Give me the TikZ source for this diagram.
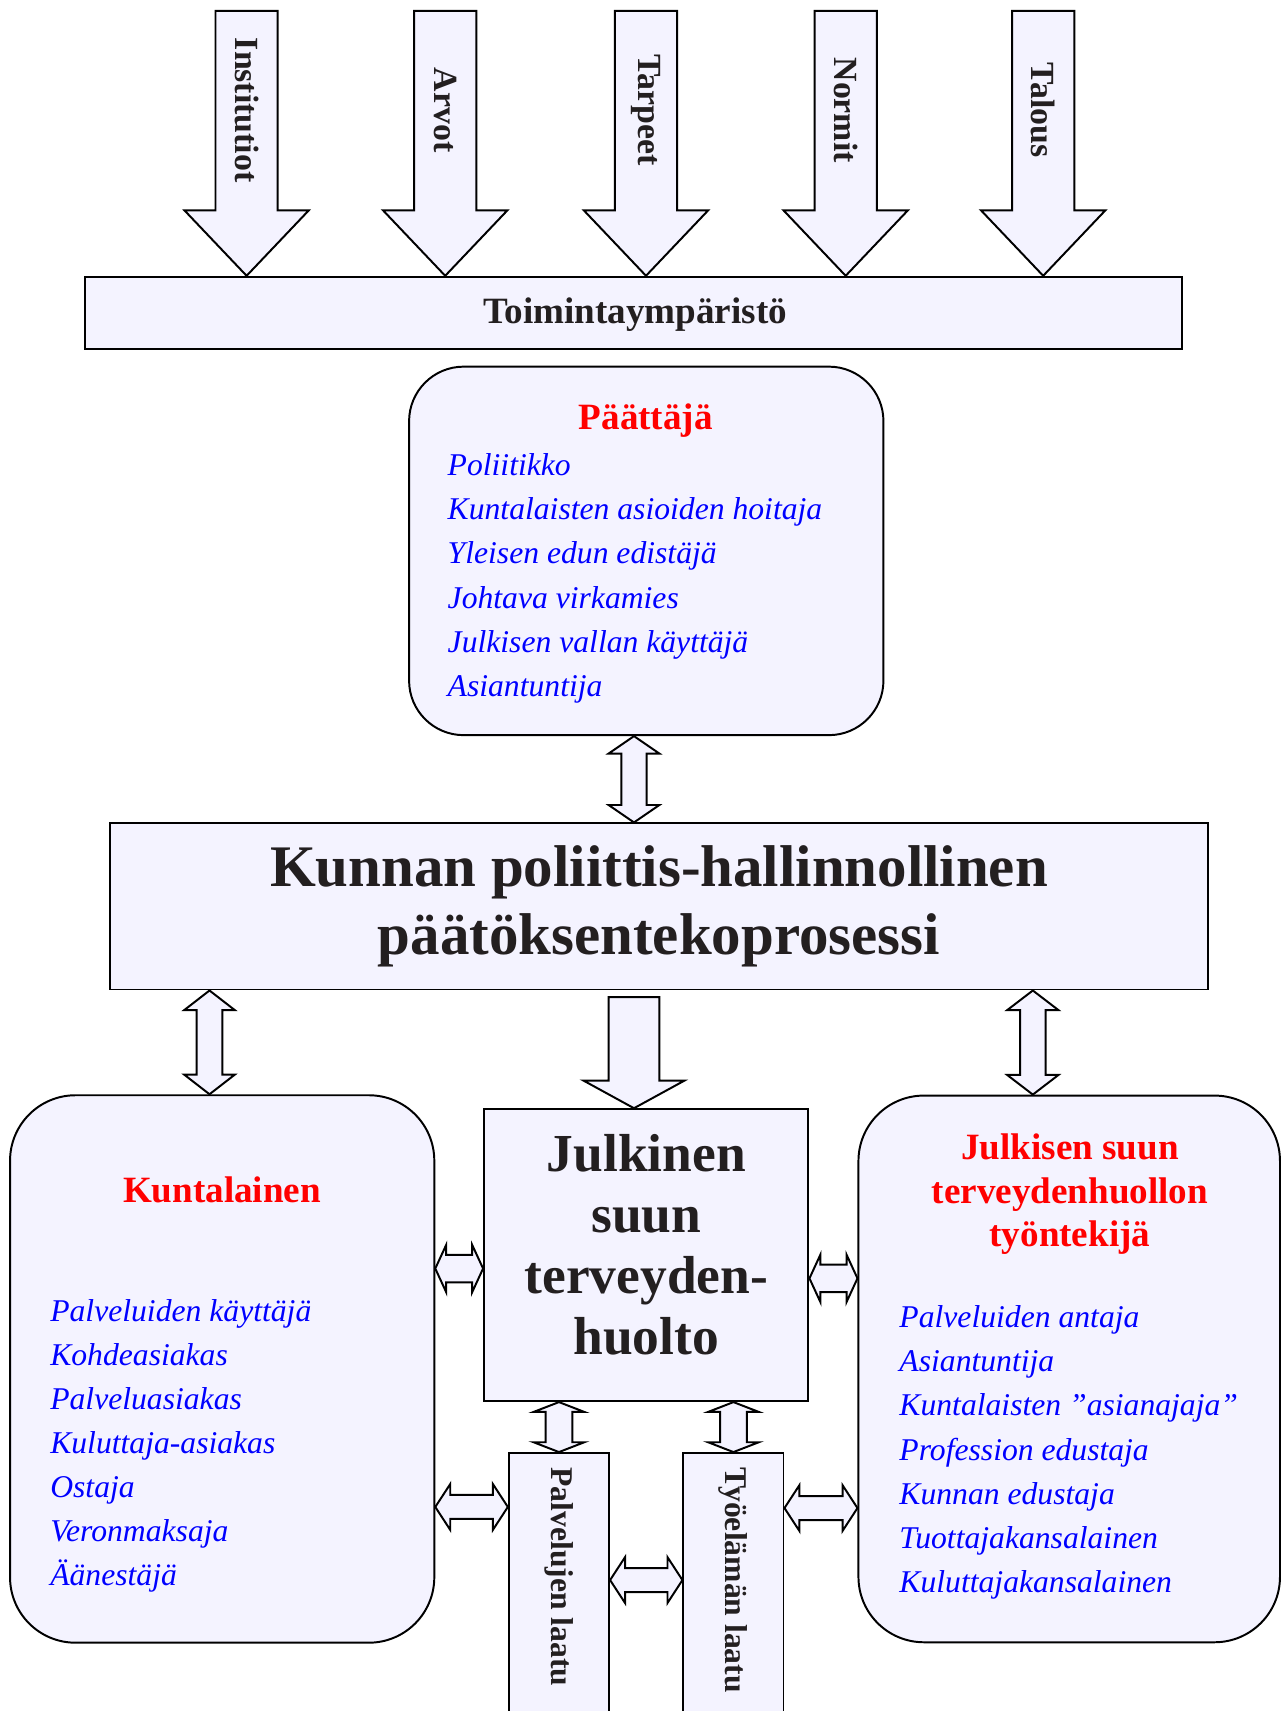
\documentclass[tikz,border=0pt]{standalone}
\usepackage{fontspec}
\setmainfont{Liberation Serif}
\usetikzlibrary{calc,positioning}
\definecolor{boxfill}{RGB}{244,243,255}
\definecolor{titlered}{RGB}{255,0,0}
\definecolor{itemblue}{RGB}{0,0,255}
\definecolor{inkdark}{RGB}{35,31,32}
\tikzset{
  every picture/.style={line width=0.9pt},
  plainbox/.style={draw, fill=boxfill, inner sep=0pt},
  roundbox/.style={plainbox, rounded corners=30pt},
  blockarrow/.style={draw, fill=boxfill, line join=miter},
  heading/.style={font=\bfseries\fontsize{17pt}{20pt}\selectfont, text=titlered, align=center, inner sep=0pt},
  item/.style={font=\itshape\fontsize{14.5pt}{17pt}\selectfont, text=itemblue, anchor=base west, inner sep=0pt},
  arrowlabel/.style={font=\bfseries\fontsize{15.5pt}{18pt}\selectfont, text=inkdark, rotate=-90, inner sep=0pt},
  boldtext/.style 2 args={font=\bfseries\fontsize{#1}{#2}\selectfont, text=inkdark, align=center}
}
% fat double arrow, vertical: top, bottom, half shaft, half head, head length
\newcommand{\dblvarrow}[5]{%
  \draw[blockarrow] let \p1=#1, \p2=#2 in
    (\x1,\y1) -- (\x1+#4,\y1-#5) -- (\x1+#3,\y1-#5) -- (\x1+#3,\y2+#5)
    -- (\x1+#4,\y2+#5) -- (\x1,\y2) -- (\x1-#4,\y2+#5) -- (\x1-#3,\y2+#5)
    -- (\x1-#3,\y1-#5) -- (\x1-#4,\y1-#5) -- cycle;}
% fat double arrow, horizontal: left, right, half shaft, half head, head length
\newcommand{\dblharrow}[5]{%
  \draw[blockarrow] let \p1=#1, \p2=#2 in
    (\x1,\y1) -- (\x1+#5,\y1+#4) -- (\x1+#5,\y1+#3) -- (\x2-#5,\y1+#3)
    -- (\x2-#5,\y1+#4) -- (\x2,\y1) -- (\x2-#5,\y1-#4) -- (\x2-#5,\y1-#3)
    -- (\x1+#5,\y1-#3) -- (\x1+#5,\y1-#4) -- cycle;}
% fat single arrow pointing down: start, tip, half shaft, half head, head length
\newcommand{\downblock}[5]{%
  \draw[blockarrow] let \p1=#1, \p2=#2 in
    (\x1-#3,\y1) -- (\x1+#3,\y1) -- (\x1+#3,\y2+#5) -- (\x1+#4,\y2+#5)
    -- (\x1,\y2) -- (\x1-#4,\y2+#5) -- (\x1-#3,\y2+#5) -- cycle;}

\begin{document}
\begin{tikzpicture}[x=0.5pt,y=-0.5pt]
  \useasboundingbox (0,0) rectangle (1176,1568);
  \clip (0,0) rectangle (1176,1568);

  % operating environment
  \node[plainbox, minimum width=502.7pt, minimum height=33.15pt] (toim) at (580.3,286.8) {};
  \node[boldtext={17pt}{20pt}, inner sep=0pt] (toimtext) at (582,288.5) {Toimintaympäristö};
  \foreach \pos/\t [count=\i] in {226/Institutiot, 408/Arvot, 592/Tarpeet, 775/Normit, 956/Talous} {
    \coordinate (src\i) at (\pos,10);
    \downblock{(src\i)}{(src\i |- toim.north)}{14.25pt}{28.5pt}{30pt}
    \node[arrowlabel] (lab\i) at (\pos,101) {\t};
  }

  % decision maker
  \node[roundbox, rounded corners=25pt, minimum width=217.35pt, minimum height=168.85pt] (paat) at (592.25,504.85) {};
  \node[heading, anchor=base] (paattitle) at (591.8,393.2) {Päättäjä};
  \foreach \t [count=\i from 0] in {Poliitikko, Kuntalaisten asioiden hoitaja, Yleisen edun edistäjä, Johtava virkamies, Julkisen vallan käyttäjä, Asiantuntija}
    \node[item] (pt\i) at (409.4,{435.4+40.6*\i}) {\t};

  % decision process
  \node[plainbox, boldtext={27pt}{31pt}, minimum width=503.3pt, minimum height=76.1pt] (kunn) at (603.9,830.7)
    {Kunnan poliittis-hallinnollinen\\päätöksentekoprosessi};

  % resident
  \node[roundbox, minimum width=194.4pt, minimum height=250.85pt] (kunl) at (203.6,1254.55) {};
  \node[heading, anchor=base] (kunltitle) at (203.5,1102) {Kuntalainen};
  \foreach \t [count=\i from 0] in {Palveluiden käyttäjä, Kohdeasiakas, Palveluasiakas, Kuluttaja-asiakas, Ostaja, Veronmaksaja, Äänestäjä}
    \node[item] (kl\i) at (45.2,{1211.4+40.2*\i}) {\t};

  % dental care
  \node[plainbox, minimum width=148.65pt, minimum height=133.75pt] (julk) at (592.25,1150.25) {};
  \node[boldtext={24.5pt}{28pt}, inner sep=0pt] (julktext) at (592.25,1141)
    {Julkinen\\suun\\terveyden-\\huolto};

  % worker
  \node[roundbox, minimum width=193.15pt, minimum height=250.5pt] (rgt) at (979.85,1254.5) {};
  \node[heading] (rgttitle) at (980.5,1094.5) {Julkisen suun\\terveydenhuollon\\työntekijä};
  \foreach \t [count=\i from 0] in {Palveluiden antaja, Asiantuntija, Kuntalaisten ”asianajaja”, Profession edustaja, Kunnan edustaja, Tuottajakansalainen, Kuluttajakansalainen}
    \node[item] (tk\i) at (823.4,{1216.8+40.4*\i}) {\t};

  % quality columns
  \node[plainbox, minimum width=45.95pt, minimum height=134.2pt] (pal) at (512.25,1465.8) {};
  \node[plainbox, minimum width=45.85pt, minimum height=134.2pt] (tyo) at (672.15,1465.8) {};
  \node[arrowlabel, font=\bfseries\fontsize{14.5pt}{17pt}\selectfont, anchor=west] (pallab) at (512.25,1344) {Palvelujen laatu};
  \node[arrowlabel, font=\bfseries\fontsize{14.5pt}{17pt}\selectfont, anchor=west] (tyolab) at (672.15,1344) {Työelämän laatu};

  % connectors
  \dblvarrow{(paat.south -| 581,0)}{(kunn.north -| 581,0)}{5.8pt}{11.65pt}{8pt}
  \dblvarrow{(kunn.south -| 192,0)}{(kunl.north -| 192,0)}{5.9pt}{11.6pt}{9pt}
  \dblvarrow{(kunn.south -| 946.5,0)}{(rgt.north -| 946.5,0)}{5.85pt}{11.75pt}{9pt}
  \downblock{($(kunn.south -| 581,0)+(0,6)$)}{(julk.north -| 581,0)}{11.65pt}{23.1pt}{12.65pt}
  \dblharrow{(kunl.east |- 0,1162.5)}{(julk.west |- 0,1162.5)}{6.3pt}{10.85pt}{5pt}
  \dblharrow{(julk.east |- 0,1171.5)}{(rgt.west |- 0,1171.5)}{6.3pt}{10.85pt}{5pt}
  \dblvarrow{(julk.south -| pal.north)}{(pal.north)}{6.1pt}{11.6pt}{4.5pt}
  \dblvarrow{(julk.south -| tyo.north)}{(tyo.north)}{6.1pt}{11.6pt}{4.5pt}
  \dblharrow{(kunl.east |- 0,1381)}{(pal.west |- 0,1381)}{5.5pt}{10.5pt}{6.85pt}
  \dblharrow{(pal.east |- 0,1448)}{(tyo.west |- 0,1448)}{5.5pt}{10.5pt}{6.85pt}
  \dblharrow{(tyo.east |- 0,1382)}{(rgt.west |- 0,1382)}{5.5pt}{10.5pt}{6.85pt}
\end{tikzpicture}
\end{document}
